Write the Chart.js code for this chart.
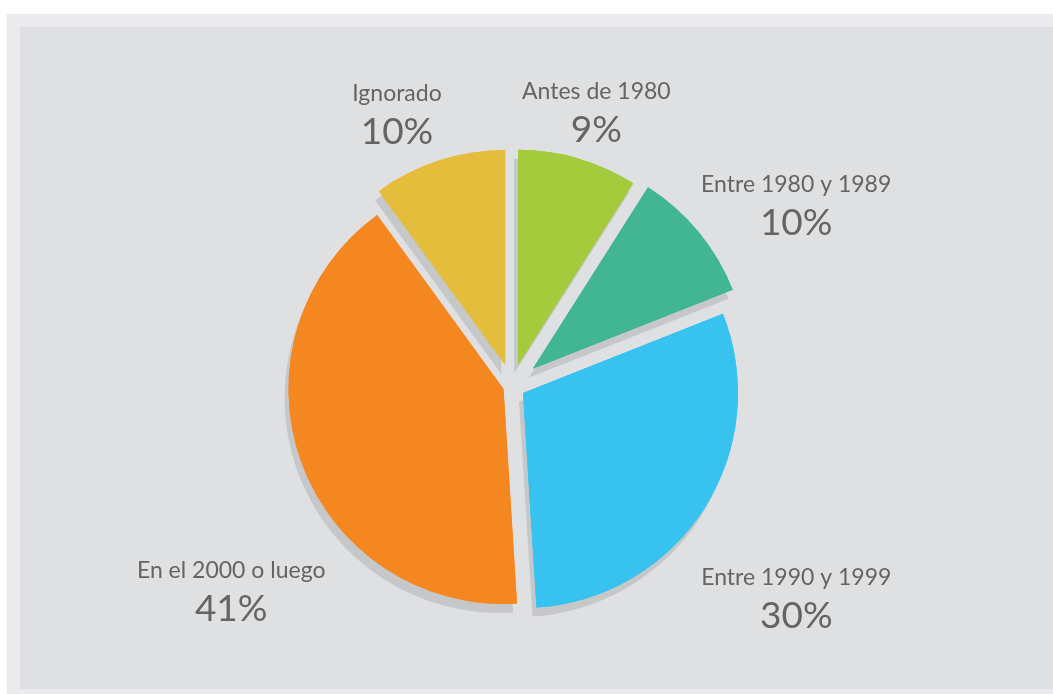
<!DOCTYPE html>
<html>
<head>
<meta charset="utf-8">
<script src="https://cdn.jsdelivr.net/npm/chart.js@4/dist/chart.umd.min.js"></script>
<style>
    html, body { margin: 0; padding: 0; background: #ffffff; }
    body { width: 1053px; height: 694px; position: relative; overflow: hidden; }
    .panel-outer { position: absolute; left: 7px; top: 14px; right: 0; bottom: 0; background: #ebebed; }
    .panel-inner { position: absolute; left: 20px; top: 27px; right: 0; bottom: 5px; background: #dfe0e2; }
    .chart-box { position: absolute; left: 0; top: 0; width: 1053px; height: 694px; }
</style>
</head>
<body>
<div class="panel-outer"></div>
<div class="panel-inner"></div>
<div class="chart-box"><canvas id="pieChart"></canvas></div>
<script>
// Datos del gráfico (sentido horario desde las 12)
const categories = ['Antes de 1980', 'Entre 1980 y 1989', 'Entre 1990 y 1999', 'En el 2000 o luego', 'Ignorado'];
const values = [9, 10, 30, 41, 10];
const colors = ['#a3cb3b', '#42b592', '#38c2f0', '#f58720', '#e5bd3d'];

// Separación de cada porción (px) y ubicación de las etiquetas (ángulo, factor de radio)
const explode = [22, 27, 13, 9, 22];
const labelAngle = [16.4, 55.7, 125, 235.7, 338];
const labelDist = [1.39, 1.6, 1.614, 1.581, 1.428];

const textColor = '#646464';
const fontFamily = 'Lato, "Open Sans", sans-serif';

/**
 * Dibuja las porciones separadas con una sombra plana
 */
const explodePlugin = {
    id: 'explodePie',
    beforeDatasetsDraw(chart) {
        const ctx = chart.ctx;
        const meta = chart.getDatasetMeta(0);

        // Primero las sombras, luego las porciones
        [true, false].forEach(withShadow => {
            meta.data.forEach((arc, i) => {
                const mid = (arc.startAngle + arc.endAngle) / 2;
                ctx.save();
                ctx.translate(Math.cos(mid) * explode[i], Math.sin(mid) * explode[i]);
                if (withShadow) {
                    ctx.shadowColor = '#c6c7c9';
                    ctx.shadowOffsetX = -4;
                    ctx.shadowOffsetY = 9;
                    ctx.shadowBlur = 0;
                }
                arc.draw(ctx);
                ctx.restore();
            });
        });
        return false;
    }
};

/**
 * Etiquetas con nombre y porcentaje
 */
const labelPlugin = {
    id: 'pieLabels',
    afterDraw(chart) {
        const ctx = chart.ctx;
        const meta = chart.getDatasetMeta(0);
        ctx.save();
        ctx.fillStyle = textColor;
        ctx.textAlign = 'center';
        ctx.textBaseline = 'alphabetic';
        meta.data.forEach((arc, i) => {
            const a = labelAngle[i] * Math.PI / 180;
            const r = arc.outerRadius * labelDist[i];
            const x = arc.x + Math.sin(a) * r;
            const y = arc.y - Math.cos(a) * r;
            ctx.font = `23px ${fontFamily}`;
            ctx.fillText(categories[i], x, y);
            ctx.font = `37px ${fontFamily}`;
            ctx.fillText(`${values[i]}%`, x, y + 43);
        });
        ctx.restore();
    }
};

const chartContainer = document.getElementById('pieChart');
new Chart(chartContainer, {
    type: 'pie',
    data: {
        labels: categories,
        datasets: [{
            data: values,
            backgroundColor: colors,
            borderWidth: 0
        }]
    },
    options: {
        responsive: true,
        maintainAspectRatio: false,
        animation: false,
        devicePixelRatio: 1,
        radius: 215,
        layout: {
            padding: { left: 0, right: 29, top: 78, bottom: 0 }
        },
        plugins: {
            legend: { display: false },
            tooltip: { enabled: false }
        }
    },
    plugins: [explodePlugin, labelPlugin]
});
</script>
</body>
</html>
